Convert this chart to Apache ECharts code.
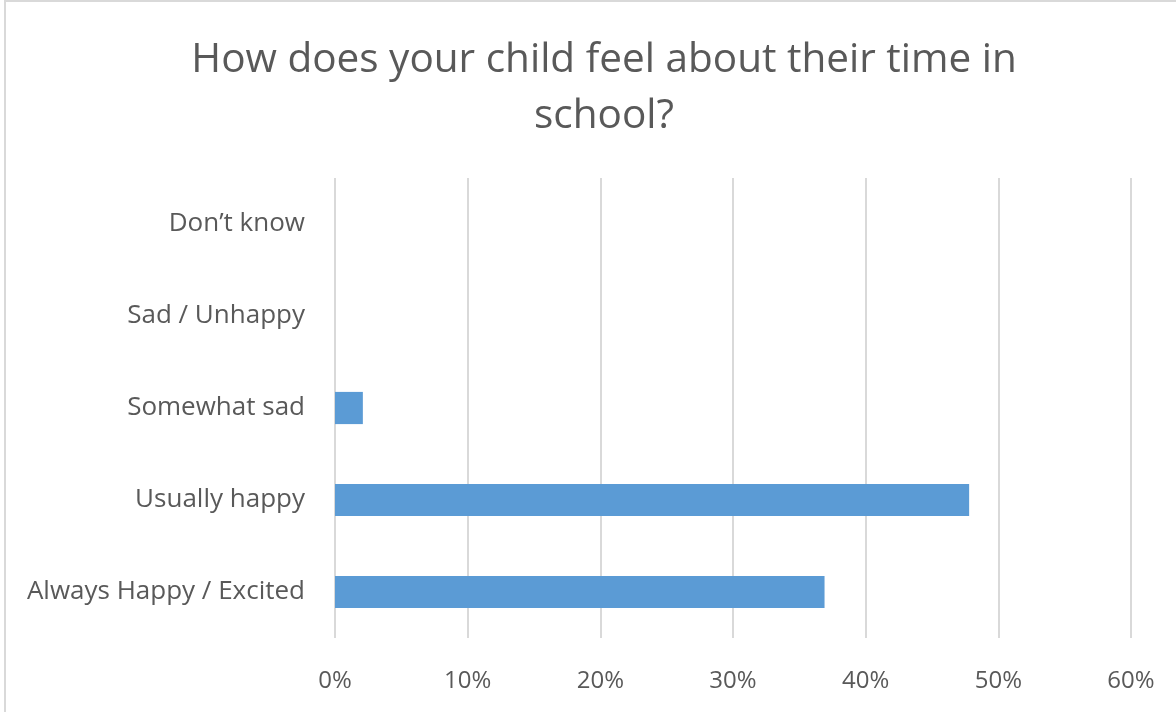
<!DOCTYPE html>
<html><head><meta charset="utf-8">
<style>html,body{margin:0;padding:0;background:#fff}#c{width:1176px;height:712px}
#frame{position:absolute;left:4px;top:0px;width:1180px;height:720px;border:2px solid #d9d9d9;box-sizing:border-box;pointer-events:none}</style>
<script src="https://cdn.jsdelivr.net/npm/echarts@6/dist/echarts.min.js"></script>
</head><body><div id="c"></div><div id="frame"></div>
<script>
const categories = ["Always Happy / Excited", "Usually happy", "Somewhat sad", "Sad / Unhappy", "Don\u2019t know"];
const values = [36.9, 47.8, 2.1, 0, 0];
const titleText = "How does your child feel about their time in\nschool?";
const chart = echarts.init(document.getElementById('c'));
chart.setOption({
  animation:false,
  title:{text:titleText,left:599,top:27,textAlign:'center',
    textStyle:{fontFamily:'Open Sans',fontSize:40.5,fontWeight:'normal',color:'#595959',lineHeight:56}},
  grid:{left:335,right:45,top:178,bottom:74,containLabel:false},
  xAxis:{type:'value',min:0,max:60,interval:10,
    axisLabel:{formatter:'{value}%',fontFamily:'Open Sans',fontSize:24,color:'#595959',margin:31},
    axisLine:{show:false},axisTick:{show:false},
    splitLine:{lineStyle:{color:'#d9d9d9',width:2}}},
  yAxis:{type:'category',data:categories,
    axisLabel:{fontFamily:'Open Sans',fontSize:26,color:'#595959',margin:30},
    axisLine:{show:false},axisTick:{show:false}},
  series:[{type:'bar',data:values,barWidth:'35%',itemStyle:{color:'#5b9bd5'}}]
});
</script></body></html>
